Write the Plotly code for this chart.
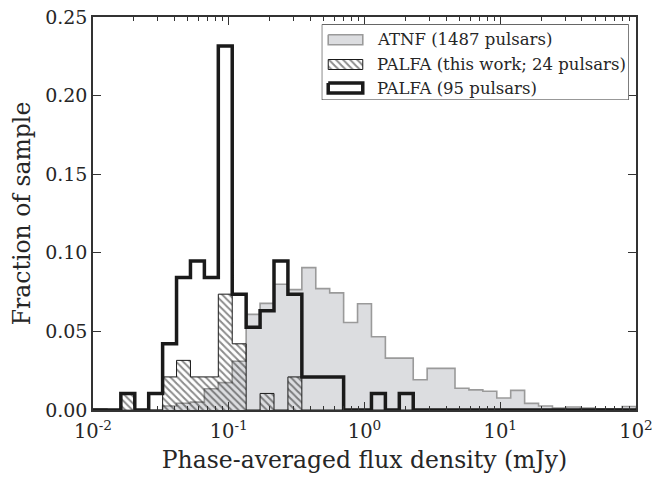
import numpy as np
import plotly.graph_objects as go

# ---- binning: 39 log-spaced bins from 10^-2 to 10^2 mJy ----
LOG_EDGE_MIN = -2.0
LOG_EDGE_MAX = 2.0
N_BINS = 39
edges = np.logspace(LOG_EDGE_MIN, LOG_EDGE_MAX, N_BINS + 1)

# ---- data ----
# ATNF catalogue: fraction of 1487 pulsars in each bin
atnf_frac = [0.0007, 0.0, 0.0, 0.0, 0.0, 0.0025, 0.0043, 0.0050, 0.0135, 0.0174,
             0.0310, 0.0608, 0.0678, 0.0800, 0.0766, 0.0906, 0.0772, 0.0745, 0.0557, 0.0676,
             0.0466, 0.0330, 0.0330, 0.0192, 0.0265, 0.0265, 0.0138, 0.0128, 0.0119, 0.0076,
             0.0125, 0.0042, 0.0025, 0.0012, 0.0019, 0.0012, 0.0007, 0.0007, 0.0022]
# PALFA, 95 pulsars: counts per bin
palfa95_counts = [0, 0, 1, 0, 1, 4, 8, 9, 8, 22,
                  7, 5, 6, 9, 7, 2, 2, 2, 0, 0,
                  1, 0, 1, 0, 0, 0, 0, 0, 0, 0,
                  0, 0, 0, 0, 0, 0, 0, 0, 0]
# PALFA this work, 24 pulsars: counts per bin (normalised by the 95-pulsar sample)
palfa24_counts = [0, 0, 1, 0, 0, 2, 3, 2, 2, 7,
                  4, 0, 1, 0, 2, 0, 0, 0, 0, 0,
                  0, 0, 0, 0, 0, 0, 0, 0, 0, 0,
                  0, 0, 0, 0, 0, 0, 0, 0, 0]
PALFA_TOTAL = 95

labels = ["ATNF (1487 pulsars)", "PALFA (this work; 24 pulsars)", "PALFA (95 pulsars)"]
x_tickvals = [0.01, 0.1, 1, 10, 100]
x_ticktext = ["10<sup>-2</sup>", "10<sup>-1</sup>", "10<sup>0</sup>", "10<sup>1</sup>", "10<sup>2</sup>"]

palfa95_frac = [c / PALFA_TOTAL for c in palfa95_counts]
palfa24_frac = [c / PALFA_TOTAL for c in palfa24_counts]


def step_outline(edges, vals):
    xs = [edges[0]]
    ys = [0.0]
    for i, v in enumerate(vals):
        xs += [edges[i], edges[i + 1]]
        ys += [v, v]
    xs.append(edges[-1])
    ys.append(0.0)
    return xs, ys


FONT = "DejaVu Serif"
TXT = "#262626"
GRAY_FILL = "#dcdde0"
GRAY_LINE = "#9a9a9a"
BLACK = "#1a1a1a"
HATCH = dict(shape="\\", fgcolor=BLACK, bgcolor="rgba(0,0,0,0)", size=5, solidity=0.4)

fig = go.Figure()

x, y = step_outline(edges, atnf_frac)
fig.add_trace(go.Scatter(
    x=x, y=y, mode="lines", fill="tozeroy", name=labels[0], showlegend=False,
    line=dict(color=GRAY_LINE, width=1.6), fillcolor=GRAY_FILL, cliponaxis=False))

x, y = step_outline(edges, palfa24_frac)
fig.add_trace(go.Scatter(
    x=x, y=y, mode="lines", fill="tozeroy", name=labels[1], showlegend=False,
    line=dict(color=BLACK, width=1.0), fillcolor="rgba(0,0,0,0)",
    fillpattern=HATCH, cliponaxis=False))

x, y = step_outline(edges, palfa95_frac)
fig.add_trace(go.Scatter(
    x=x, y=y, mode="lines", name=labels[2], showlegend=False,
    line=dict(color=BLACK, width=3.5), cliponaxis=False))

# ---- hand-drawn legend on an overlay axis (units: pixels inside legend box) ----
BOX_W, BOX_H = 306.6, 75.7
ROW_Y = [15.4, 40.2, 63.8]
SW_X0, SW_X1, SW_H = 6.5, 41.0, 10.0
TXT_X = 53.0


def rect(x0, x1, y0, y1):
    return [x0, x1, x1, x0, x0], [y0, y0, y1, y1, y0]


bx, by = rect(0, BOX_W, 0, BOX_H)
fig.add_trace(go.Scatter(x=bx, y=by, xaxis="x2", yaxis="y2", mode="lines", fill="toself",
                         fillcolor="white", line=dict(color="#333", width=1.2),
                         showlegend=False, hoverinfo="skip"))
sw_styles = [
    dict(fillcolor=GRAY_FILL, line=dict(color=GRAY_LINE, width=1.6)),
    dict(fillcolor="rgba(0,0,0,0)", fillpattern=HATCH, line=dict(color=BLACK, width=1.0)),
    dict(fillcolor="white", line=dict(color=BLACK, width=3.5)),
]
for i, st in enumerate(sw_styles):
    sx, sy = rect(SW_X0, SW_X1, ROW_Y[i] - SW_H / 2, ROW_Y[i] + SW_H / 2)
    fig.add_trace(go.Scatter(x=sx, y=sy, xaxis="x2", yaxis="y2", mode="lines", fill="toself",
                             showlegend=False, hoverinfo="skip", **st))
    fig.add_annotation(x=TXT_X, y=ROW_Y[i], xref="x2", yref="y2", text=labels[i],
                       showarrow=False, xanchor="left", yanchor="middle",
                       font=dict(family=FONT, size=16.5, color=TXT))

fig.update_layout(
    width=652, height=479,
    margin=dict(l=93, r=16, t=17, b=69, autoexpand=False),
    paper_bgcolor="white", plot_bgcolor="white",
    font=dict(family=FONT, size=17, color=TXT),
    showlegend=False,
    xaxis=dict(
        type="log", range=[-2, 2], tickmode="array", tickvals=x_tickvals, ticktext=x_ticktext,
        ticks="inside", ticklen=8, tickwidth=1, tickcolor="#333",
        minor=dict(ticks="inside", ticklen=4, tickwidth=1, tickcolor="#333", dtick="D1",
                   showgrid=False),
        showline=True, linecolor="#333", linewidth=1.5, mirror="allticks",
        showgrid=False, zeroline=False, ticklabeloverflow="allow", ticklabelstandoff=3,
        automargin=False,
        tickfont=dict(family=FONT, size=19.5, color=TXT),
        title=dict(text="Phase-averaged flux density (mJy)",
                   font=dict(family=FONT, size=23.5, color=TXT), standoff=9),
    ),
    yaxis=dict(
        range=[0, 0.25], dtick=0.05, tickformat=".2f",
        ticks="inside", ticklen=8, tickwidth=1, tickcolor="#333",
        showline=True, linecolor="#333", linewidth=1.5, mirror="allticks",
        showgrid=False, zeroline=False, automargin=False,
        tickfont=dict(family=FONT, size=19, color=TXT),
        title=dict(text="Fraction of sample", font=dict(family=FONT, size=23.5, color=TXT),
                   standoff=8),
    ),
    xaxis2=dict(domain=[0.4212, 0.9867], range=[0, BOX_W], anchor="y2", visible=False,
                fixedrange=True),
    yaxis2=dict(domain=[0.7888, 0.9814], range=[BOX_H, 0], anchor="x2", visible=False,
                fixedrange=True),
)

fig.write_html("out.html")
